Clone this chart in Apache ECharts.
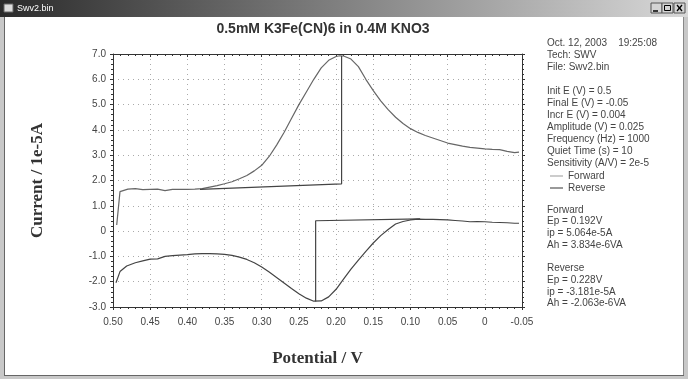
<!DOCTYPE html>
<html>
<head>
<meta charset="utf-8">
<script src="https://cdn.jsdelivr.net/npm/echarts@6/dist/echarts.min.js"></script>
<style>
	html, body { margin: 0; padding: 0; background: #fff; }
	#chart { width: 688px; height: 379px; }
</style>
</head>
<body>
<div id="chart"></div>
<script>
// forward current (1e-5 A) vs potential (V)
const forward = [
	[0.495, 0.24], [0.4906, 1.56], [0.488, 1.62], [0.48, 1.66], [0.47, 1.68], [0.46, 1.64],
	[0.45, 1.65], [0.44, 1.66], [0.43, 1.6], [0.42, 1.65], [0.41, 1.65], [0.40, 1.65],
	[0.39, 1.66], [0.38, 1.68], [0.37, 1.74], [0.36, 1.8], [0.35, 1.87], [0.34, 1.95],
	[0.33, 2.07], [0.32, 2.2], [0.31, 2.38], [0.30, 2.6], [0.29, 2.95], [0.28, 3.4],
	[0.27, 3.9], [0.26, 4.45], [0.25, 5.0], [0.24, 5.5], [0.23, 6.0], [0.22, 6.45],
	[0.21, 6.75], [0.20, 6.9], [0.195, 6.93], [0.19, 6.92], [0.18, 6.8], [0.17, 6.5],
	[0.16, 6.0], [0.15, 5.55], [0.14, 5.15], [0.13, 4.8], [0.12, 4.5], [0.11, 4.25],
	[0.10, 4.05], [0.09, 3.9], [0.08, 3.78], [0.07, 3.68], [0.06, 3.58], [0.05, 3.48],
	[0.04, 3.42], [0.03, 3.36], [0.02, 3.31], [0.01, 3.28], [0.0, 3.25], [-0.01, 3.23],
	[-0.02, 3.22], [-0.03, 3.15], [-0.04, 3.1], [-0.046, 3.12]
]

const reverse = [
	[0.496, -2.04], [0.4906, -1.6], [0.4816, -1.38], [0.47, -1.25], [0.46, -1.18],
	[0.45, -1.11], [0.44, -1.1], [0.43, -1.0], [0.42, -0.97], [0.41, -0.95], [0.40, -0.93],
	[0.39, -0.9], [0.38, -0.89], [0.37, -0.89], [0.36, -0.9], [0.35, -0.92], [0.34, -0.96],
	[0.33, -1.03], [0.32, -1.12], [0.31, -1.25], [0.30, -1.42], [0.29, -1.62], [0.28, -1.83],
	[0.27, -2.05], [0.26, -2.27], [0.25, -2.48], [0.24, -2.65], [0.23, -2.77], [0.22, -2.76],
	[0.21, -2.6], [0.20, -2.3], [0.19, -1.9], [0.18, -1.5], [0.17, -1.15], [0.16, -0.8],
	[0.15, -0.47], [0.14, -0.18], [0.13, 0.06], [0.12, 0.28], [0.11, 0.38], [0.10, 0.44],
	[0.09, 0.47], [0.08, 0.46], [0.07, 0.46], [0.06, 0.45], [0.05, 0.44], [0.04, 0.42],
	[0.03, 0.4], [0.02, 0.37], [0.01, 0.38], [0.0, 0.37], [-0.01, 0.35], [-0.02, 0.34],
	[-0.03, 0.33], [-0.04, 0.31], [-0.046, 0.31]
]

// peak baselines drawn by the instrument software
const forwardBase = [[0.383, 1.65], [0.1926, 1.87], [0.1926, 6.92]]
const reverseBase = [[0.2275, -2.78], [0.2275, 0.41], [0.087, 0.48]]

const infoLines = [
	'Oct. 12, 2003    19:25:08',
	'Tech: SWV',
	'File: Swv2.bin',
	'',
	'Init E (V) = 0.5',
	'Final E (V) = -0.05',
	'Incr E (V) = 0.004',
	'Amplitude (V) = 0.025',
	'Frequency (Hz) = 1000',
	'Quiet Time (s) = 10',
	'Sensitivity (A/V) = 2e-5'
]
const peakLines = [
	'Forward',
	'Ep = 0.192V',
	'ip = 5.064e-5A',
	'Ah = 3.834e-6VA',
	'',
	'Reverse',
	'Ep = 0.228V',
	'ip = -3.181e-5A',
	'Ah = -2.063e-6VA'
]

const chart = echarts.init(document.getElementById('chart'))

const sans = 'Liberation Sans'
const serif = 'Liberation Serif'
const labelColor = '#444'

const xFmt = (v) => (Math.abs(v) < 1e-9 ? '0' : v.toFixed(2))
const yFmt = (v) => (Math.abs(v) < 1e-9 ? '0' : v.toFixed(1))

const baseX = {
	type: 'value',
	min: -0.05,
	max: 0.5,
	interval: 0.05,
	inverse: true,
	axisLine: { onZero: false, lineStyle: { color: '#333', width: 1 } },
	minorTick: { show: true, splitNumber: 5, length: 2, lineStyle: { color: '#333' } },
	axisTick: { length: 3, lineStyle: { color: '#333' } }
}
const baseY = {
	type: 'value',
	min: -3,
	max: 7,
	interval: 1,
	axisLine: { onZero: false, lineStyle: { color: '#333', width: 1 } },
	minorTick: { show: true, splitNumber: 5, length: 2, lineStyle: { color: '#333' } },
	axisTick: { length: 3, lineStyle: { color: '#333' } }
}

const option = {
	animation: false,
	backgroundColor: '#fff',
	title: {
		text: '0.5mM K3Fe(CN)6 in 0.4M KNO3',
		left: 318,
		top: 17,
		textAlign: 'center',
		textStyle: { fontFamily: sans, fontSize: 14, fontWeight: 'bold', color: '#333' }
	},
	grid: { left: 113, right: 166, top: 54, bottom: 72 },
	legend: {
		data: ['Forward', 'Reverse'],
		orient: 'vertical',
		left: 545,
		top: 166,
		icon: 'rect',
		itemWidth: 13,
		itemHeight: 1,
		itemGap: 2,
		textStyle: { fontFamily: sans, fontSize: 10, color: labelColor }
	},
	xAxis: [
		Object.assign({}, baseX, {
			position: 'bottom',
			name: 'Potential / V',
			nameLocation: 'middle',
			nameGap: 43,
			nameTextStyle: { fontFamily: serif, fontSize: 17, fontWeight: 'bold', color: '#333' },
			axisLabel: { formatter: xFmt, margin: 10, fontFamily: sans, fontSize: 10, color: labelColor },
			splitLine: { show: true, lineStyle: { type: [1, 4], color: '#aaa' } }
		}),
		Object.assign({}, baseX, {
			position: 'top',
			axisLabel: { show: false },
			axisTick: { inside: true, length: 3, lineStyle: { color: '#333' } },
			splitLine: { show: false }
		})
	],
	yAxis: [
		Object.assign({}, baseY, {
			position: 'left',
			name: 'Current / 1e-5A',
			nameLocation: 'middle',
			nameGap: 67,
			nameTextStyle: { fontFamily: serif, fontSize: 17, fontWeight: 'bold', color: '#333' },
			axisLabel: { formatter: yFmt, margin: 7, fontFamily: sans, fontSize: 10, color: labelColor },
			splitLine: { show: true, lineStyle: { type: [1, 4], color: '#aaa' } }
		}),
		Object.assign({}, baseY, {
			position: 'right',
			axisLabel: { show: false },
			splitLine: { show: false }
		})
	],
	series: [
		{
			name: 'Forward',
			type: 'line',
			data: forward,
			showSymbol: false,
			symbol: 'none',
			lineStyle: { color: '#666', width: 1.2 },
			itemStyle: { color: '#999' }
		},
		{
			name: 'Reverse',
			type: 'line',
			data: reverse,
			showSymbol: false,
			symbol: 'none',
			lineStyle: { color: '#444', width: 1.2 },
			itemStyle: { color: '#333' }
		},
		{
			name: 'fwdBase',
			type: 'line',
			data: forwardBase,
			symbol: 'none',
			lineStyle: { color: '#444', width: 1.2 }
		},
		{
			name: 'revBase',
			type: 'line',
			data: reverseBase,
			symbol: 'none',
			lineStyle: { color: '#444', width: 1.2 }
		}
	],
	graphic: [
		// window chrome
		{
			type: 'rect',
			shape: { x: 0, y: 0, width: 688, height: 17 },
			style: {
				fill: new echarts.graphic.LinearGradient(0, 0, 1, 0, [
					{ offset: 0, color: '#2b2b2b' },
					{ offset: 0.55, color: '#8a8a8a' },
					{ offset: 1, color: '#d8d8d8' }
				])
			},
			z: 100
		},
		{ type: 'rect', shape: { x: 4, y: 4, width: 9, height: 8 }, style: { fill: '#ddd', stroke: '#666' }, z: 101 },
		{
			type: 'text',
			x: 17,
			y: 9,
			style: { text: 'Swv2.bin', fontFamily: sans, fontSize: 9, fill: '#fff', verticalAlign: 'middle' },
			z: 101
		},
		{ type: 'rect', shape: { x: 651, y: 3, width: 11, height: 10 }, style: { fill: '#d4d4d4', stroke: '#555' }, z: 101 },
		{ type: 'rect', shape: { x: 662, y: 3, width: 11, height: 10 }, style: { fill: '#d4d4d4', stroke: '#555' }, z: 101 },
		{ type: 'rect', shape: { x: 674, y: 3, width: 11, height: 10 }, style: { fill: '#d4d4d4', stroke: '#555' }, z: 101 },
		{ type: 'line', shape: { x1: 653, y1: 11, x2: 658, y2: 11 }, style: { stroke: '#000', lineWidth: 1.5 }, z: 102 },
		{ type: 'rect', shape: { x: 664.5, y: 5.5, width: 6, height: 5 }, style: { fill: 'none', stroke: '#000' }, z: 102 },
		{ type: 'line', shape: { x1: 677, y1: 5, x2: 682, y2: 11 }, style: { stroke: '#000', lineWidth: 1.3 }, z: 102 },
		{ type: 'line', shape: { x1: 682, y1: 5, x2: 677, y2: 11 }, style: { stroke: '#000', lineWidth: 1.3 }, z: 102 },
		{ type: 'rect', shape: { x: 0, y: 17, width: 4, height: 362 }, style: { fill: '#c8c8c8' }, z: 100 },
		{ type: 'line', shape: { x1: 4.5, y1: 17, x2: 4.5, y2: 375 }, style: { stroke: '#666' }, z: 100 },
		{ type: 'rect', shape: { x: 684, y: 17, width: 4, height: 362 }, style: { fill: '#c8c8c8' }, z: 100 },
		{ type: 'line', shape: { x1: 683.5, y1: 17, x2: 683.5, y2: 375 }, style: { stroke: '#888' }, z: 100 },
		{ type: 'rect', shape: { x: 0, y: 375, width: 688, height: 4 }, style: { fill: '#c8c8c8' }, z: 100 },
		{ type: 'line', shape: { x1: 4, y1: 375.5, x2: 684, y2: 375.5 }, style: { stroke: '#666' }, z: 100 },
		// run parameters and peak results
		{
			type: 'text',
			x: 547,
			y: 37,
			style: { text: infoLines.join('\n'), fontFamily: sans, fontSize: 10, lineHeight: 12, fill: labelColor }
		},
		{
			type: 'text',
			x: 547,
			y: 204,
			style: { text: peakLines.join('\n'), fontFamily: sans, fontSize: 10, lineHeight: 11.7, fill: labelColor }
		}
	]
}

chart.setOption(option)
</script>
</body>
</html>
